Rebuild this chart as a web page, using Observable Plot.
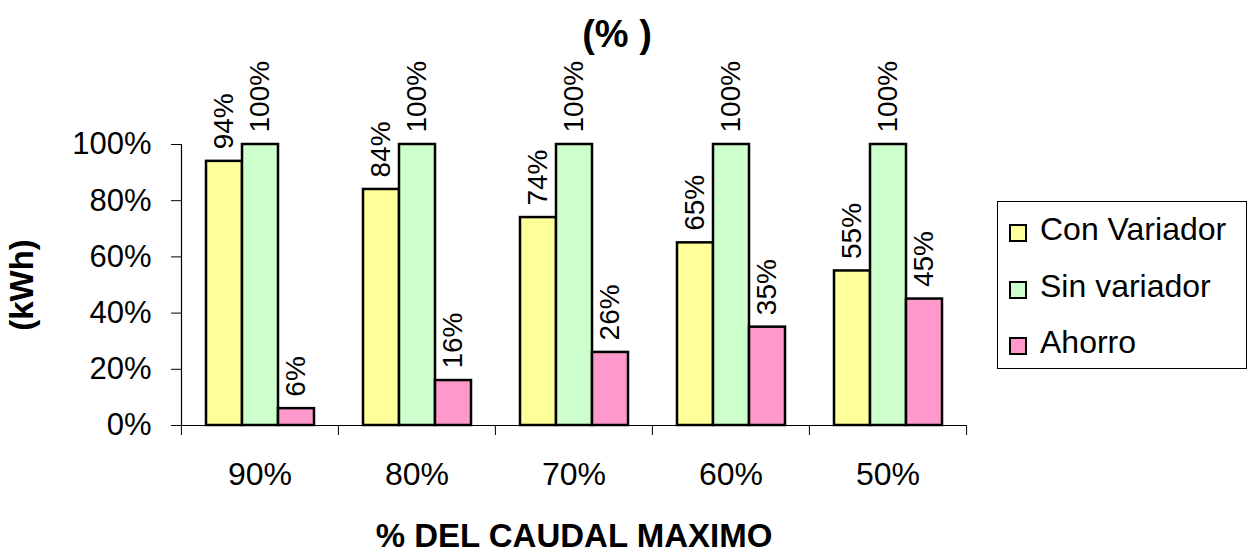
<!DOCTYPE html>
<html>
<head>
<meta charset="utf-8">
<script src="https://cdn.jsdelivr.net/npm/d3@7"></script>
<script src="https://cdn.jsdelivr.net/npm/@observablehq/plot@0.6"></script>
<style>
  html, body { margin: 0; padding: 0; background: #fff; }
  #chart { position: relative; width: 1255px; height: 554px; font-family: "Liberation Sans", Arial, sans-serif; color: #000; }
  #chart svg { position: absolute; left: 0; top: 0; }
  #title { position: absolute; left: 0; top: 12px; width: 1234px; text-align: center; font-weight: bold; font-size: 38px; line-height: 44px; }
  #legend { position: absolute; left: 997px; top: 201px; width: 250px; height: 168px; border: 1px solid #000; box-sizing: border-box; background: #fff; }
  .sw { position: absolute; width: 18px; height: 18px; border: 2px solid #000; box-sizing: border-box; }
  .lt { position: absolute; font-size: 32px; line-height: 36px; white-space: nowrap; }
  g[aria-label$="axis label"], g[aria-label$="axis label"] text { font-weight: bold; font-size: 33px; }
</style>
</head>
<body>
<div id="chart">
  <div id="title">(% )</div>
  <div id="legend"></div>
</div>
<script>
// Caudal levels (share of maximum flow) on the x axis
const categories = ["90%", "80%", "70%", "60%", "50%"];
// Energy series, as shares of the consumption without variable-speed drive
const series = ["Con Variador", "Sin variador", "Ahorro"];
const conVariador = [0.94, 0.84, 0.74, 0.65, 0.55];
const sinVariador = [1.00, 1.00, 1.00, 1.00, 1.00];
const ahorro = [0.06, 0.16, 0.26, 0.35, 0.45];
const colors = ["#FFFF99", "#CCFFCC", "#FF99CC"];
const yTicks = [0, 0.2, 0.4, 0.6, 0.8, 1];

const seriesValues = [conVariador, sinVariador, ahorro];
const rows = categories.flatMap((c, i) =>
  series.map((s, j) => ({category: c, series: s, value: seriesValues[j][i]}))
);

const width = 1255, height = 554;
const margin = {top: 144, right: 289, bottom: 129, left: 180};
const step = (width - margin.left - margin.right) / categories.length;
const pct = d3.format(".0%");

const chart = Plot.plot({
  width, height,
  marginTop: margin.top, marginRight: margin.right,
  marginBottom: margin.bottom, marginLeft: margin.left,
  style: {fontFamily: "Liberation Sans, Arial, sans-serif", fontSize: "31px", color: "#000", background: "transparent", overflow: "visible"},
  fx: {domain: categories, padding: 0},
  x: {domain: series, paddingInner: 0, paddingOuter: 0.68, axis: null},
  y: {domain: [0, 1]},
  color: {domain: series, range: colors},
  marks: [
    Plot.axisY({
      ticks: yTicks, tickFormat: pct, tickSize: 10, tickPadding: 20, fontSize: 31,
      label: "(kWh)", labelAnchor: "center", labelOffset: 172, labelArrow: "none"
    }),
    Plot.axisFx({
      anchor: "bottom", tickSize: 0, tickPadding: 37, fontSize: 32,
      label: "% DEL CAUDAL MAXIMO", labelAnchor: "center", labelOffset: 121, labelArrow: "none"
    }),
    // vertical axis line on the left of the first group
    Plot.frame({anchor: "left", facetAnchor: "left", stroke: "#000", strokeWidth: 1.2}),
    // ticks between groups on the category axis
    Plot.ruleX(categories, {fx: d => d, x: null, y1: 0, y2: 0, insetBottom: -10, dx: -step / 2, stroke: "#000"}),
    Plot.ruleX([categories[categories.length - 1]], {fx: d => d, x: null, y1: 0, y2: 0, insetBottom: -10, dx: step / 2, stroke: "#000"}),
    Plot.ruleY([0], {stroke: "#000"}),
    Plot.barY(rows, {fx: "category", x: "series", y: "value", fill: "series", stroke: "#000", strokeWidth: 2.5}),
    Plot.text(rows, {
      fx: "category", x: "series", y: "value", text: d => pct(d.value),
      rotate: -90, textAnchor: "start", dy: -12, fontSize: 28
    })
  ]
});
document.getElementById("chart").prepend(chart);

// Legend box on the right
const legend = d3.select("#legend");
series.forEach((s, i) => {
  const top = 9 + i * 56.5;
  legend.append("div").attr("class", "sw")
    .style("left", "11px").style("top", (top + 13) + "px")
    .style("background", colors[i]);
  legend.append("div").attr("class", "lt")
    .style("left", "42px").style("top", top + "px")
    .text(s);
});
</script>
</body>
</html>
